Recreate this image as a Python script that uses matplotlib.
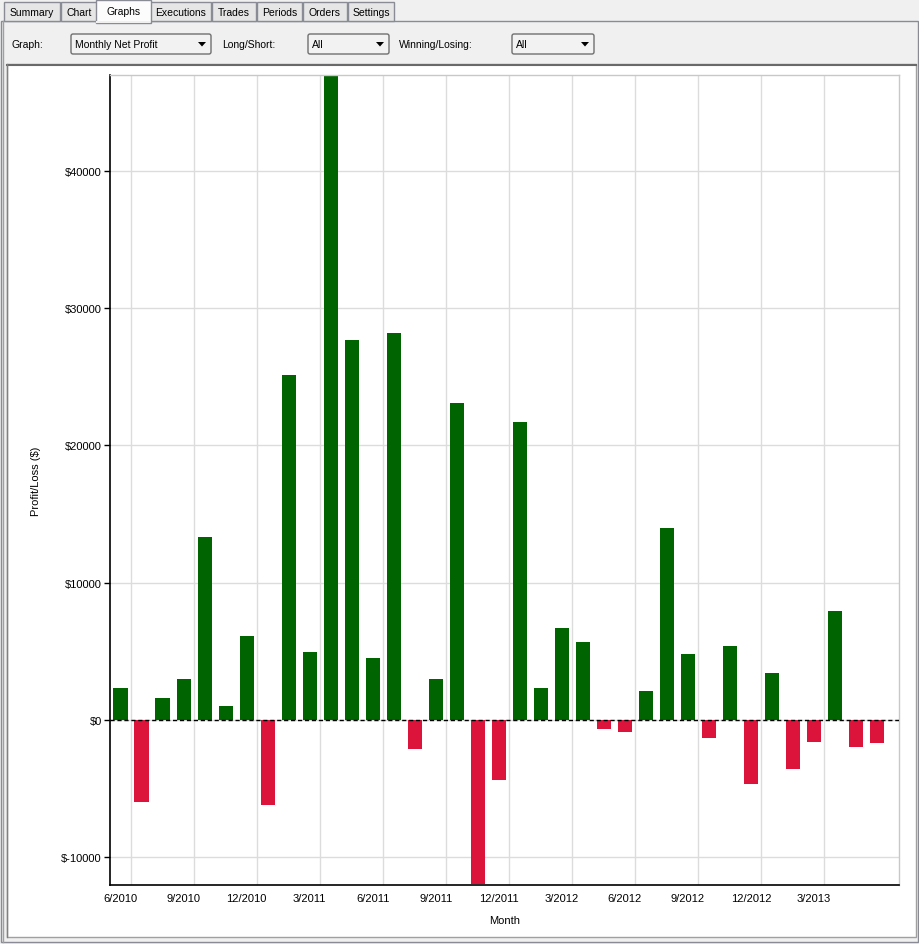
import numpy as np
import pandas as pd
import matplotlib
matplotlib.use('Agg')
import matplotlib.pyplot as plt
from matplotlib.patches import Rectangle, FancyBboxPatch, Polygon

plt.rcParams['font.family'] = ['Liberation Sans', 'DejaVu Sans']

# Du lieu: loi nhuan rong hang thang (6/2010 - 6/2013)
months = pd.period_range('2010-06', '2013-06', freq='M')
profit = [2300, -6000, 1600, 3000, 13300, 1000, 6100, -6200, 25100, 4900,
          47000, 27700, 4500, 28200, -2100, 3000, 23100, -12000, -4400, 21700,
          2300, 6700, 5700, -700, -900, 2100, 14000, 4800, -1300, 5400,
          -4700, 3400, -3600, -1600, 7900, -2000, -1700]
tick_labels = ['6/2010', '9/2010', '12/2010', '3/2011', '6/2011', '9/2011',
               '12/2011', '3/2012', '6/2012', '9/2012', '12/2012', '3/2013']
y_ticks = [-10000, 0, 10000, 20000, 30000, 40000]

tab_names = ['Summary', 'Chart', 'Graphs', 'Executions', 'Trades', 'Periods', 'Orders', 'Settings']
tab_edges = [4, 61, 98, 150, 212, 257, 303, 348, 395]
selected_tab = 'Graphs'

W, H = 920, 945
fig = plt.figure(figsize=(W / 100, H / 100), dpi=100)
fig.patch.set_facecolor('#f0f0f0')

# Khung giao dien (toa do pixel)
bg = fig.add_axes([0, 0, 1, 1])
bg.set_xlim(0, W)
bg.set_ylim(H, 0)
bg.axis('off')

# Trang tab
bg.add_patch(Rectangle((1, 22), 917, 921, facecolor='#f0f0f0', edgecolor='#898c95', lw=1))

# Cac tab
for i, name in enumerate(tab_names):
    x0, x1 = tab_edges[i], tab_edges[i + 1] - 1
    if name == selected_tab:
        bg.add_patch(Rectangle((x0 - 2, 1), x1 - x0 + 4, 22.5, facecolor='#fcfcfc',
                               edgecolor='#898c95', lw=1, zorder=3))
        bg.add_patch(Rectangle((x0 - 1.5, 21.5), x1 - x0 + 3, 2.5, facecolor='#f0f0f0',
                               edgecolor='none', zorder=4))
        bg.text((x0 + x1) / 2, 12, name, ha='center', va='center', fontsize=7.5, zorder=5)
    else:
        bg.add_patch(Rectangle((x0, 3), x1 - x0, 19, facecolor='#e6e6e6',
                               edgecolor='#898c95', lw=1, zorder=2))
        bg.text((x0 + x1) / 2, 13.5, name, ha='center', va='center', fontsize=7.5, zorder=5)

# Hang dieu khien
def combo(x0, x1, text):
    bg.add_patch(FancyBboxPatch((x0, 35), x1 - x0, 20, boxstyle='round,pad=0,rounding_size=2',
                                facecolor='#f2f2f2', edgecolor='#707070', lw=1))
    bg.text(x0 + 4, 45.5, text, ha='left', va='center', fontsize=7.5)
    ax_ = x1 - 9
    bg.add_patch(Polygon([[ax_ - 4, 43], [ax_ + 4, 43], [ax_, 47.5]], closed=True,
                         facecolor='black', edgecolor='none'))

bg.text(12, 45.5, 'Graph:', ha='left', va='center', fontsize=7.5)
combo(71, 211, 'Monthly Net Profit')
bg.text(222, 45.5, 'Long/Short:', ha='left', va='center', fontsize=7.5)
combo(308, 389, 'All')
bg.text(399, 45.5, 'Winning/Losing:', ha='left', va='center', fontsize=7.5)
combo(512, 594, 'All')

# Khung bieu do
bg.add_patch(Rectangle((7, 65), 909, 873, facecolor='white', edgecolor='#a0a0a0', lw=1))
bg.plot([7, 916], [65.5, 65.5], color='#696969', lw=1.5)
bg.plot([7.5, 7.5], [65, 938], color='#808080', lw=1)
bg.plot([3, 3], [22, 943], color='#a0a0a0', lw=1)

# Truc bieu do
left, right, top, bottom = 110, 899, 76, 886
ax = fig.add_axes([left / W, (H - bottom) / H, (right - left) / W, (bottom - top) / H])
ax.set_facecolor('white')

x = np.arange(len(months))
colors = ['#006400' if v >= 0 else '#dc143c' for v in profit]
ax.bar(x, profit, width=0.67, color=colors, zorder=2)
ax.axhline(0, color='black', lw=1, ls=(0, (3, 2)), zorder=3)

ax.set_xlim(-0.5, 37.05)
ax.set_ylim(-12050, max(profit))

tick_pos = x[::3][:len(tick_labels)]
ax.set_xticks(tick_pos)
ax.set_xticklabels(tick_labels)
ax.set_xticks(tick_pos + 0.5, minor=True)
ax.set_yticks(y_ticks)
ax.set_yticklabels(['$' + str(v) for v in y_ticks])

ax.grid(True, which='minor', axis='x', color='#dcdcdc', lw=1, zorder=0)
ax.grid(True, which='major', axis='y', color='#dcdcdc', lw=1, zorder=0)
ax.tick_params(axis='x', which='both', length=0, pad=5.5, labelsize=8)
ax.tick_params(axis='y', length=4, width=1, pad=2, labelsize=8, color='black')

for s in ['left', 'bottom']:
    ax.spines[s].set_color('black')
    ax.spines[s].set_linewidth(1.2)
for s in ['top', 'right']:
    ax.spines[s].set_color('#c8c8c8')
    ax.spines[s].set_linewidth(1)

ax.set_xlabel('Month', fontsize=8, labelpad=9)
ax.set_ylabel('Profit/Loss ($)', fontsize=8)
ax.yaxis.set_label_coords((41 - left) / (right - left), 0.5)

fig.savefig('out.png', dpi=100, facecolor=fig.get_facecolor())
